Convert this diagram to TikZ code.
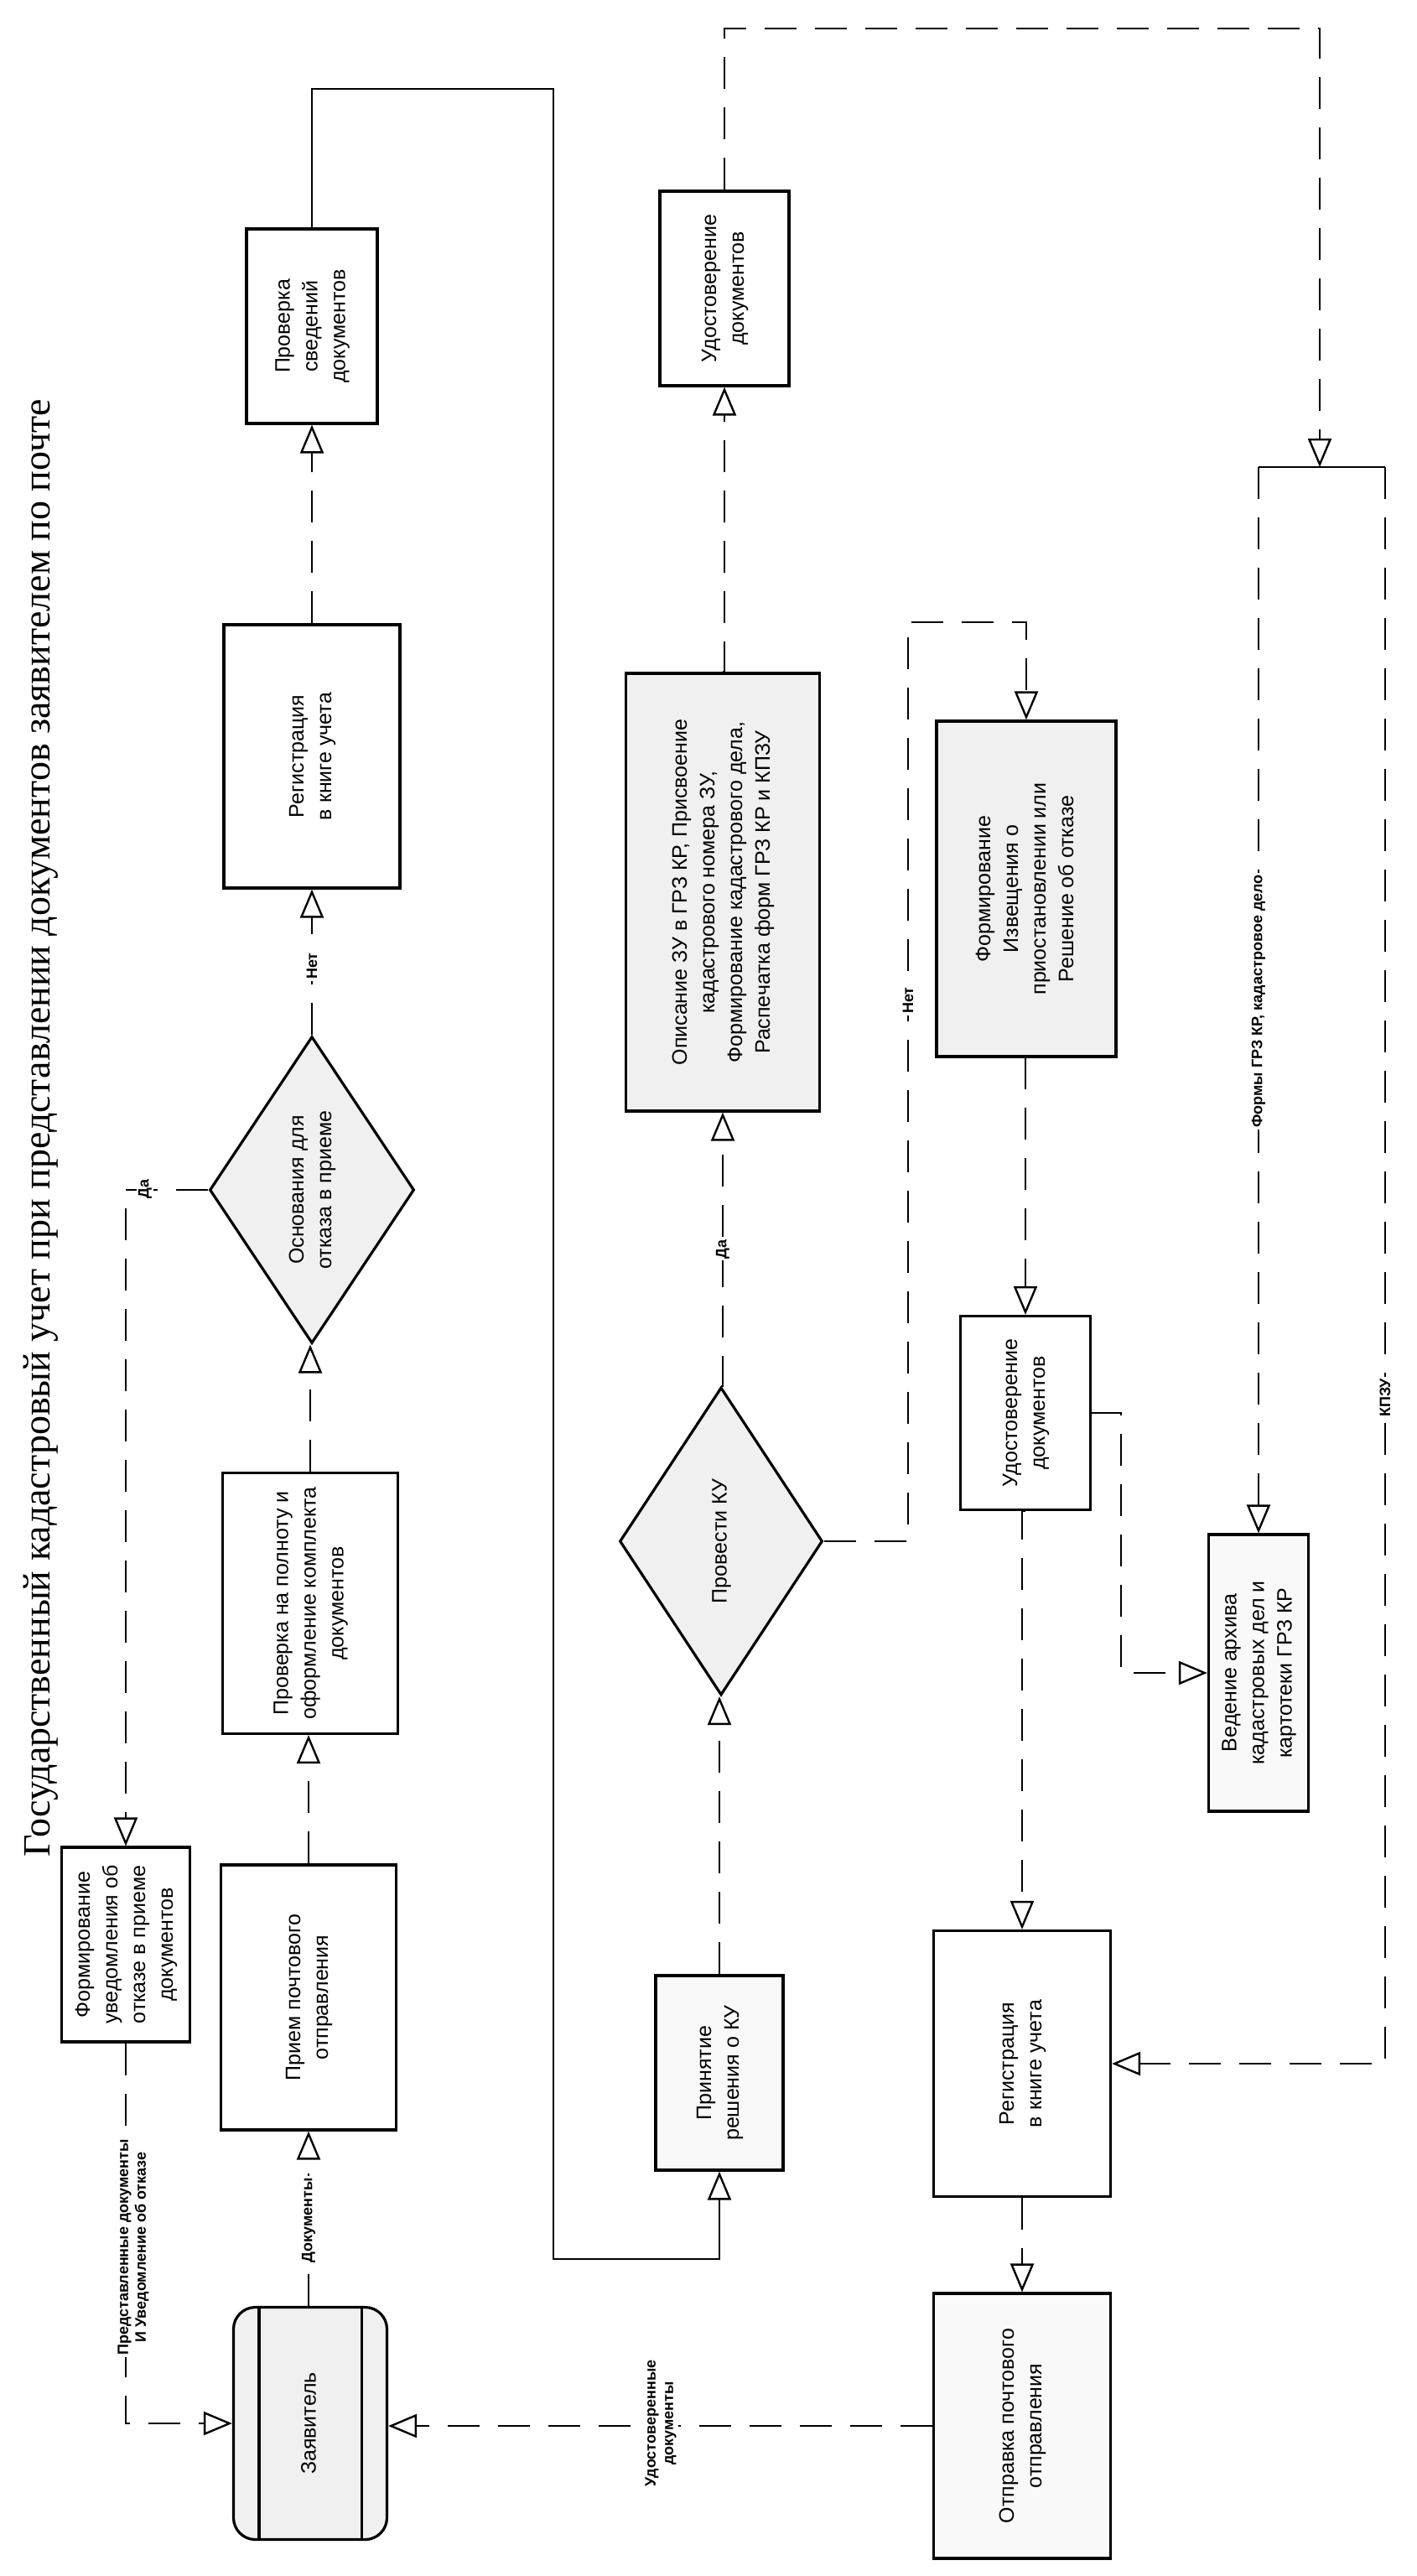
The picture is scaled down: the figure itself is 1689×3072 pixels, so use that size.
\documentclass[tikz,border=0pt]{standalone}
\usepackage{fontspec}
\setmainfont{Liberation Sans}
\newfontfamily\titlefont{Liberation Serif}
\usetikzlibrary{arrows.meta,shapes.geometric,calc}
\newcommand\rtext[1]{\rotatebox{90}{\begin{tabular}{@{}c@{}}#1\end{tabular}}}
\begin{document}
\begin{tikzpicture}[x=1pt,y=-1pt,
  box/.style={draw, line width=3.2pt, inner sep=0pt, fill=white, font=\fontsize{25}{33}\selectfont},
  shaded/.style={fill=gray!12},
  light/.style={fill=gray!5},
  dia/.style={box, diamond, aspect=0.667},
  dline/.style={line width=2.6pt, dash pattern=on 38pt off 22pt},
  sline/.style={line width=2.6pt},
  arr/.style={-{Triangle[open, length=34pt, width=28pt, line width=2.4pt]}},
  lbl/.style={font=\bfseries\fontsize{18}{21}\selectfont, fill=white, inner sep=2pt, rotate=90}
]
\useasboundingbox (0,0) rectangle (1689,3072);
\fill[white] (0,0) rectangle (1689,3072);

% title
\node[rotate=90, anchor=base, font=\titlefont\fontsize{46}{54}\selectfont] (title) at (59,1345)
  {Государственный кадастровый учет при представлении документов заявителем по почте};

% left column
\node[box, minimum width=156pt, minimum height=232pt] (sved) at (372,389) {\rtext{Проверка\\сведений\\документов}};
\node[box, minimum width=210pt, minimum height=314pt] (reg1) at (372,902) {\rtext{Регистрация\\в книге учета}};
\node[dia, shaded, minimum width=244pt, minimum height=366pt] (diam1) at (372,1419) {\rtext{Основания для\\отказа в приеме}};
\node[box, minimum width=209pt, minimum height=311pt] (poln) at (370,1912) {\rtext{Проверка на полноту и\\оформление комплекта\\документов}};
\node[box, minimum width=153pt, minimum height=232pt] (uved) at (150,2319) {\rtext{Формирование\\уведомления об\\отказе в приеме\\документов}};
\node[box, minimum width=209pt, minimum height=316pt] (priem) at (368,2382) {\rtext{Прием почтового\\отправления}};
\node[box, shaded, rounded corners=26pt, minimum width=183pt, minimum height=277pt] (zayav) at (370,2890) {\rtext{Заявитель}};
\draw[line width=3.2pt] ($(zayav.north west)+(32,0)$) -- ($(zayav.south west)+(32,0)$);
\draw[line width=3.2pt] ($(zayav.north east)+(-32,0)$) -- ($(zayav.south east)+(-32,0)$);

% middle column
\node[box, minimum width=154pt, minimum height=232pt] (udost1) at (864,344) {\rtext{Удостоверение\\документов}};
\node[box, shaded, minimum width=231pt, minimum height=522pt] (opis) at (862,1064) {\rtext{Описание ЗУ в ГРЗ КР, Присвоение\\кадастрового номера ЗУ,\\Формирование кадастрового дела,\\Распечатка форм ГРЗ КР и КПЗУ}};
\node[dia, shaded, minimum width=242pt, minimum height=367pt] (diam2) at (860,1838) {\rtext{Провести КУ}};
\node[box, light, minimum width=152pt, minimum height=232pt] (prin) at (858,2472) {\rtext{Принятие\\решения о КУ}};

% right-middle column
\node[box, shaded, minimum width=214pt, minimum height=400pt] (izv) at (1224,1060) {\rtext{Формирование\\Извещения о\\приостановлении или\\Решение об отказе}};
\node[box, minimum width=155pt, minimum height=231pt] (udost2) at (1223,1685) {\rtext{Удостоверение\\документов}};
\node[box, minimum width=211pt, minimum height=317pt] (reg2) at (1219,2461) {\rtext{Регистрация\\в книге учета}};
\node[box, light, minimum width=211pt, minimum height=316pt] (otpr) at (1219,2893) {\rtext{Отправка почтового\\отправления}};

% right column
\node[box, light, minimum width=119pt, minimum height=330pt] (ved) at (1501,1995) {\rtext{Ведение архива\\кадастровых дел и\\картотеки ГРЗ КР}};

% coordinates
\coordinate (c1) at (660,106);
\coordinate (c2) at (660,2694);
\coordinate (t1) at (1574,34);
\coordinate (forkM) at (1574,557);
\coordinate (forkL) at (1501,557);
\coordinate (forkR) at (1652,557);
\coordinate (n1) at (1083,742);
\coordinate (u2) at (1337,0);

% connectors left column
\draw[dline, arr] (reg1.north) -- (sved.south);
\draw[sline, arr] (sved.north) |- (c1) -- (c2) -| (prin.south);
\draw[dline, arr] (diam1.north) -- (reg1.south);
\draw[dline, arr] (diam1.west) -| (uved.north);
\draw[dline, arr] (poln.north) -- (poln.north |- diam1.south);
\draw[dline, arr] (priem.north) -- (priem.north |- poln.south);
\draw[dline, arr] (zayav.north -| priem.south) -- (priem.south);
\draw[dline, arr] (uved.south) |- (zayav.west);
\draw[dline, arr] (otpr.west) -- (otpr.west -| zayav.east);

% middle
\draw[dline, arr] (prin.north) -- (prin.north |- diam2.south);
\draw[dline, arr] (diam2.north) -- (diam2.north -| opis.south) -- (opis.south);
\draw[dline, arr] (opis.north) -- (opis.north -| udost1.south) -- (udost1.south);
\draw[dline, arr] (diam2.east) -- (diam2.east -| n1) -- (n1) -| (izv.north);
\draw[dline, arr] (izv.south) -- (izv.south -| udost2.north) -- (udost2.north);
\draw[dline, arr] (udost2.south) -- (udost2.south -| reg2.north) -- (reg2.north);
\draw[dline, arr] (reg2.south) -- (otpr.north);

% right
\draw[dline, arr] (udost1.north) |- (t1) -- (forkM);
\draw[sline] (forkL) -- (forkR);
\draw[dline, arr] (forkL) -- (ved.north);
\draw[dline, arr] (forkR) |- (reg2.east);
\draw[dline, arr] (udost2.east) -- (udost2.east -| u2) |- (ved.west);

% labels
\node[lbl] (lnet1) at (372,1152) {Нет};
\node[lbl] (lda1) at (173,1418) {Да};
\node[lbl] (ldoc) at (368,2648) {Документы};
\node[lbl, align=center] (lpred) at (159,2680) {Представленные документы\\И Уведомление об отказе};
\node[lbl, align=center] (ludd) at (788,2890) {Удостоверенные\\документы};
\node[lbl] (lda2) at (862,1490) {Да};
\node[lbl] (lnet2) at (1083,1193) {Нет};
\node[lbl] (lforms) at (1501,1194) {Формы ГРЗ КР, кадастровое дело};
\node[lbl] (lkpzu) at (1652,1667) {КПЗУ};
\end{tikzpicture}
\end{document}
